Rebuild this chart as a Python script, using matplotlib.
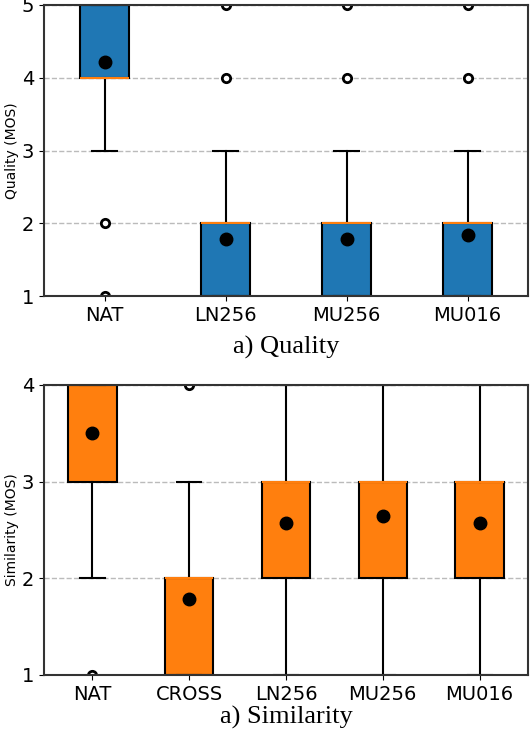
"""
MOS boxplots: quality and similarity
"""
import numpy as np
from matplotlib import pyplot as plt

# quality (MOS)
q_labels = ["NAT", "LN256", "MU256", "MU016"]
q_q1 = [4, 1, 1, 1]
q_med = [4, 2, 2, 2]
q_q3 = [5, 2, 2, 2]
q_lo = [3, 1, 1, 1]
q_hi = [5, 3, 3, 3]
q_mean = [4.22, 1.79, 1.78, 1.84]
q_fliers = [[2, 1], [4, 5], [4, 5], [4, 5]]

# similarity (MOS)
s_labels = ["NAT", "CROSS", "LN256", "MU256", "MU016"]
s_q1 = [3, 1, 2, 2, 2]
s_med = [4, 2, 3, 3, 3]
s_q3 = [4, 2, 3, 3, 3]
s_lo = [2, 1, 1, 1, 1]
s_hi = [4, 3, 4, 4, 4]
s_mean = [3.50, 1.79, 2.57, 2.65, 2.57]
s_fliers = [[1], [4], [], [], []]


def stats(labels, q1, med, q3, lo, hi, mean, fliers):
    out = []
    for i in range(len(labels)):
        out.append(dict(label=labels[i], q1=q1[i], med=med[i], q3=q3[i],
                        whislo=lo[i], whishi=hi[i], mean=mean[i],
                        fliers=np.array(fliers[i], dtype=float)))
    return out


def draw(ax, st, color, width, ylabel, caption, cap_y, ylim):
    ax.bxp(st, widths=width, patch_artist=True, showmeans=True,
           boxprops=dict(facecolor=color, edgecolor="black", linewidth=1.5),
           medianprops=dict(color="#ff7f0e", linewidth=1.5),
           whiskerprops=dict(color="black", linewidth=1.5),
           capprops=dict(color="black", linewidth=1.5),
           meanprops=dict(marker="o", markerfacecolor="black",
                          markeredgecolor="black", markersize=9),
           flierprops=dict(marker="o", markerfacecolor="white",
                           markeredgecolor="black", markersize=6,
                           markeredgewidth=2))
    ax.set_ylim(ylim)
    ax.set_yticks(np.arange(ylim[0], ylim[1] + 1))
    ax.yaxis.grid(True, linestyle="--", color="#bbbbbb", linewidth=1)
    ax.set_axisbelow(True)
    ax.tick_params(labelsize=14)
    ax.set_ylabel(ylabel, fontsize=10, labelpad=2)
    for s in ax.spines.values():
        s.set_color("#333333")
        s.set_linewidth(1.5)
    # caption under the panel (figure pixel row)
    fig.text(286/530, 1 - cap_y/740, caption, ha="center", va="center",
             fontsize=19, family="Liberation Serif")


fig = plt.figure(figsize=(5.3, 7.4), dpi=100)
ax1 = fig.add_axes([44/530, 1 - 296/740, 484/530, 291/740])
ax2 = fig.add_axes([44/530, 1 - 675/740, 484/530, 290/740])

draw(ax1, stats(q_labels, q_q1, q_med, q_q3, q_lo, q_hi, q_mean, q_fliers),
     "#1f77b4", 0.4, "Quality (MOS)", "a) Quality", 347, (1, 5))
draw(ax2, stats(s_labels, s_q1, s_med, s_q3, s_lo, s_hi, s_mean, s_fliers),
     "#ff7f0e", 0.5, "Similarity (MOS)", "a) Similarity", 717, (1, 4))

fig.savefig("out.png", dpi=100)
